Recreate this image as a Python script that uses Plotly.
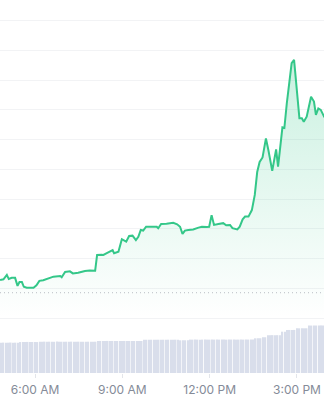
import plotly.graph_objects as go
import pandas as pd

DAY = "2024-03-14 "

line_times = ["04:48","04:55","05:02","05:06","05:12","05:19","05:24","05:28","05:33","05:37",
              "05:43","05:57","06:03","06:09","06:17","06:27","06:38","06:52","06:55","07:02",
              "07:12","07:18","07:29","07:43","07:53","08:04","08:08","08:17","08:21","08:28",
              "08:35","08:40","08:43","08:52","08:59","09:03","09:08","09:14","09:21","09:28",
              "09:33","09:38","09:43","09:49","09:57","10:11","10:14","10:20","10:31","10:45",
              "10:53","10:59","11:04","11:09","11:16","11:26","11:37","11:44","11:54","11:59",
              "12:04","12:09","12:18","12:28","12:34","12:42","12:47","12:57","13:02","13:08",
              "13:13","13:20","13:27","13:33","13:38","13:43","13:49","13:56","14:01","14:09",
              "14:17","14:21","14:30","14:34","14:39","14:44","14:49","14:54","14:59","15:05",
              "15:10","15:14","15:20","15:29","15:35","15:39","15:44","15:49","15:56","16:02"]

line_prices = [1.2128, 1.2130, 1.2145, 1.2131, 1.2135, 1.2135, 1.2108, 1.2121, 1.2121, 1.2105,
               1.2102, 1.2102, 1.2110, 1.2125, 1.2127, 1.2132, 1.2139, 1.2141, 1.2137, 1.2155,
               1.2157, 1.2150, 1.2152, 1.2158, 1.2160, 1.2159, 1.2212, 1.2213, 1.2212, 1.2218,
               1.2225, 1.2228, 1.2218, 1.2223, 1.2265, 1.2262, 1.2257, 1.2276, 1.2277, 1.2262,
               1.2273, 1.2296, 1.2294, 1.2307, 1.2307, 1.2307, 1.2302, 1.2316, 1.2317, 1.2320,
               1.2315, 1.2307, 1.2283, 1.2294, 1.2296, 1.2298, 1.2304, 1.2307, 1.2306, 1.2307,
               1.2346, 1.2313, 1.2316, 1.2319, 1.2312, 1.2313, 1.2302, 1.2298, 1.2307, 1.2332,
               1.2341, 1.2341, 1.2363, 1.2414, 1.2491, 1.2525, 1.2540, 1.2604, 1.2565, 1.2495,
               1.2567, 1.2509, 1.2641, 1.2639, 1.2722, 1.2801, 1.2857, 1.2868, 1.2789, 1.2672,
               1.2672, 1.2660, 1.2677, 1.2744, 1.2728, 1.2683, 1.2705, 1.2700, 1.2677, 1.2666]

ref_price = 1.2085      # dotted reference (open) price
base_price = 1.20       # bottom of the price area
price_ticks = [1.20, 1.21, 1.22, 1.23, 1.24, 1.25, 1.26, 1.27, 1.28, 1.29, 1.30]

vol_start = "04:50"
volumes = [9.75, 9.78, 9.72, 9.75, 9.80, 9.74, 9.76, 9.73,
           9.95, 9.98, 9.97, 10.00, 9.96, 9.97, 9.99, 9.95,
           10.07, 10.05, 10.09, 10.06, 10.08, 10.07, 10.04, 10.10, 10.07, 10.06, 10.08, 10.07,
           10.05, 10.09, 10.07, 10.06, 10.08, 10.07, 10.05, 10.08, 10.07, 10.06, 10.09, 10.07,
           10.28, 10.31, 10.30, 10.29, 10.32, 10.30, 10.31, 10.29, 10.30, 10.33, 10.30, 10.31,
           10.29, 10.30, 10.32, 10.30, 10.31, 10.29, 10.30,
           10.71, 10.70, 10.73, 10.71, 10.72, 10.70, 10.71, 10.73, 10.71, 10.70, 10.72, 10.71,
           10.70, 10.72, 10.71,
           10.52, 10.50, 10.53, 10.52,
           10.75, 10.74, 10.76, 10.75, 10.73, 10.75, 10.77, 10.75, 10.74, 10.76, 10.75, 10.74,
           10.75, 10.76, 10.75, 10.73, 10.75, 10.76, 10.75, 10.74, 10.75, 10.77, 10.75, 10.74,
           10.76, 10.75, 10.78,
           11.16, 11.15, 11.18,
           11.49, 11.50,
           12.16, 12.15, 12.18, 12.16, 12.17, 12.15,
           13.29, 13.30,
           13.84, 13.85, 13.83, 13.86,
           14.38, 14.37, 14.40, 14.38, 14.39,
           15.28, 15.27, 15.30, 15.28, 15.29, 15.31, 15.28, 15.30]

x_range = [DAY + "04:47:52", DAY + "15:55:41"]

GREEN = "rgb(52,199,137)"

lx = [DAY + t for t in line_times]
vx = pd.date_range(DAY + vol_start, periods=len(volumes), freq="5min")

fig = go.Figure()

fig.add_trace(go.Bar(x=vx, y=volumes, yaxis="y2",
                     marker=dict(color="rgb(217,222,235)", line=dict(width=0)),
                     hoverinfo="skip", showlegend=False))

fig.add_trace(go.Scatter(x=lx, y=[base_price] * len(lx), mode="lines",
                         line=dict(width=0), hoverinfo="skip", showlegend=False))

fig.add_trace(go.Scatter(x=lx, y=line_prices, mode="lines",
                         line=dict(color=GREEN, width=2),
                         fill="tonexty",
                         fillgradient=dict(type="vertical",
                                           start=base_price, stop=max(line_prices),
                                           colorscale=[[0, "rgba(52,199,137,0)"],
                                                       [1, "rgba(52,199,137,0.26)"]]),
                         showlegend=False))

fig.add_hline(y=ref_price, line=dict(color="#b9bdc5", width=1, dash="1px,3px"))

fig.update_layout(
    width=324, height=400,
    margin=dict(l=0, r=0, t=0, b=27),
    paper_bgcolor="white", plot_bgcolor="white",
    bargap=0.35,
    showlegend=False,
    xaxis=dict(type="date", range=x_range,
               tick0=DAY + "06:00", dtick=3 * 3600 * 1000,
               tickformat="%-I:%M %p",
               ticks="outside", ticklen=4, tickcolor="#e3e5ea",
               ticklabelstandoff=2,
               showgrid=False, zeroline=False, showline=False,
               tickfont=dict(family="Inter", size=12, color="#858b98")),
    yaxis=dict(range=[1.1815, 1.30696], tickvals=price_ticks,
               showticklabels=False, showgrid=True, gridcolor="#f2f3f5",
               gridwidth=1, zeroline=False, showline=False),
    yaxis2=dict(range=[0, 120], overlaying="y", showgrid=False,
                showticklabels=False, zeroline=False, showline=False),
)

fig.write_html("out.html")
